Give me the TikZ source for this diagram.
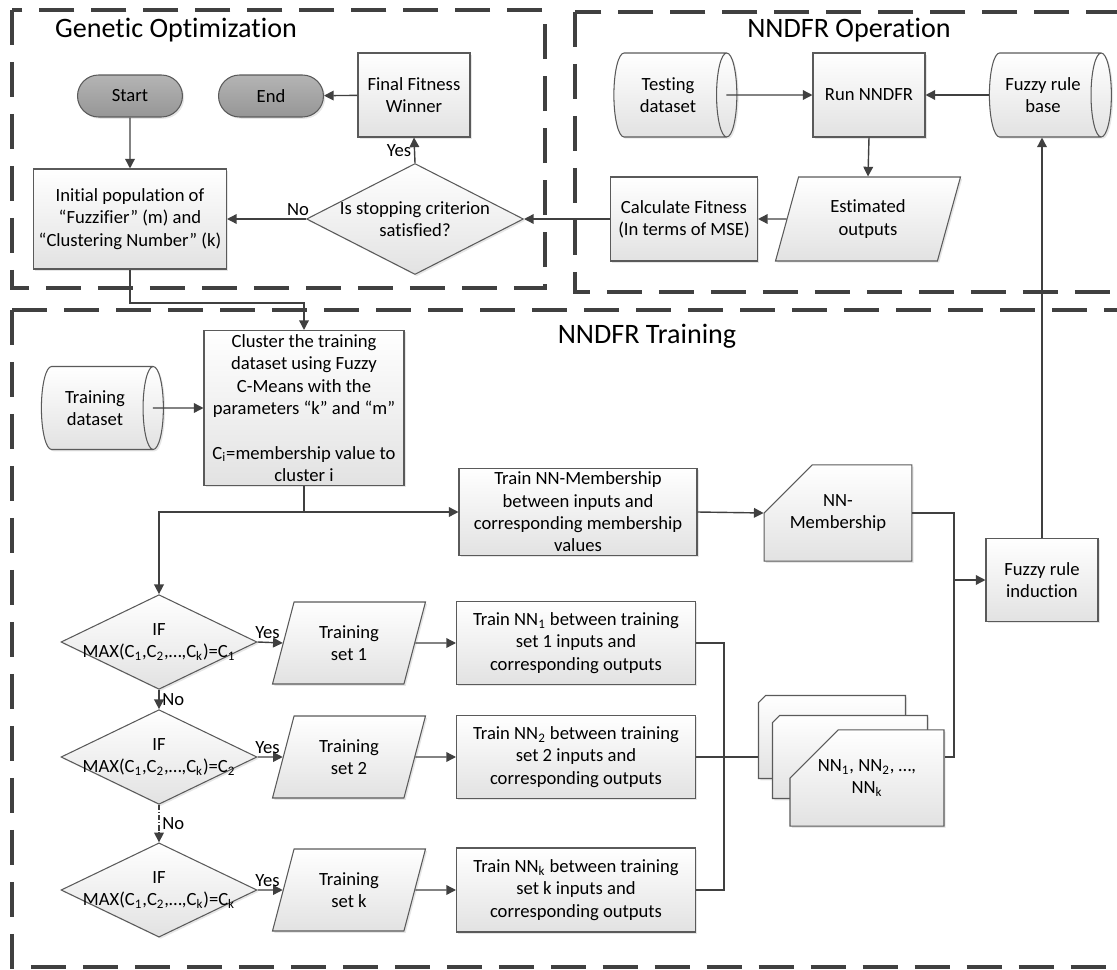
\documentclass[tikz,border=0pt]{standalone}
\usepackage{fontspec}
\setmainfont{Carlito}[Ligatures=NoCommon]
\usetikzlibrary{shapes.geometric,shapes.misc,arrows.meta,shadows}

\definecolor{framecol}{RGB}{64,64,64}
\definecolor{linecol}{RGB}{64,64,64}
\definecolor{bordercol}{RGB}{90,90,90}
\definecolor{boxgray}{RGB}{226,226,226}
\definecolor{termtop}{RGB}{180,180,180}
\definecolor{termbot}{RGB}{150,150,150}

\tikzset{
  frame/.style={draw=framecol, line width=2.2pt, dash pattern=on 0.7cm off 0.34cm},
  base/.style={draw=bordercol, line width=0.6pt, top color=white, bottom color=boxgray,
    align=center, inner sep=2pt, font=\fontsize{10.6}{12.7}\selectfont,
    drop shadow={shadow xshift=1pt, shadow yshift=-1pt, opacity=0.2}},
  proc/.style={base, rectangle},
  term/.style={base, rounded rectangle, top color=termtop, bottom color=termbot},
  dec/.style={base, diamond, aspect=1.8, inner sep=-5pt},
  io/.style={base, trapezium, trapezium left angle=63, trapezium right angle=117,
    trapezium stretches body},
  store/.style={base, cylinder, aspect=0.48},
  card/.style={base, chamfered rectangle, chamfered rectangle corners=north west,
    chamfered rectangle sep=0.52cm},
  title/.style={font=\fontsize{16}{19}\selectfont},
  lbl/.style={font=\fontsize{10.6}{12.7}\selectfont, inner sep=1.5pt},
  conn/.style={draw=linecol, line width=0.8pt},
  arr/.style={conn, -{Triangle[length=5.5pt, width=5.5pt]}},
}

\begin{document}
\begin{tikzpicture}[x=0.02cm, y=-0.02cm]
  \useasboundingbox (0,0) rectangle (1117,970);

  % dashed frames
  \draw[frame] (12,10) rectangle (545,288);
  \draw[frame] (575,12) rectangle (1140,292);
  \draw[frame] (12,310) rectangle (1140,967);
  \node[title] (gotitle) at (176,30) {Genetic Optimization};
  \node[title] (optitle) at (849,30) {NNDFR Operation};
  \node[title] (trtitle) at (647,336) {NNDFR Training};

  % Genetic Optimization
  \node[term, minimum width=2.24cm, minimum height=0.84cm] (start) at (130,96) {Start};
  \node[term, minimum width=2.24cm, minimum height=0.84cm] (stop) at (271,96) {End};
  \node[proc, minimum width=2.24cm, minimum height=1.68cm] (winner) at (414,95) {Final Fitness\\Winner};
  \node[dec, minimum width=4.34cm, minimum height=2.22cm] (stopq) at (415,219) {Is stopping criterion\\satisfied?};
  \node[proc, minimum width=3.86cm, minimum height=2cm] (init) at (130,219)
    {Initial population of\\“Fuzzifier” (m) and\\“Clustering Number” (k)};

  % NNDFR Operation
  \node[store, minimum height=2.46cm, minimum width=1.68cm] (testset) at (668,95) {Testing\\dataset};
  \node[proc, minimum width=2.24cm, minimum height=1.68cm] (run) at (869,95) {Run NNDFR};
  \node[store, minimum height=2.44cm, minimum width=1.68cm] (rulebase) at (1043,95) {Fuzzy rule\\base};
  \node[io, minimum width=3.7cm, minimum height=1.68cm] (estout) at (868,219) {Estimated\\outputs};
  \node[proc, minimum width=2.94cm, minimum height=1.68cm] (fitness) at (684,219) {Calculate Fitness\\(In terms of MSE)};

  % NNDFR Training
  \node[store, minimum height=2.44cm, minimum width=1.66cm] (trainset) at (95,408) {Training\\dataset};
  \node[proc, minimum width=4cm, minimum height=3.1cm] (cluster) at (304,408)
    {Cluster the training\\dataset using Fuzzy\\C-Means with the\\parameters “k” and “m”\\[12.7pt]C\textsubscript{i}=membership value to\\cluster i};
  \node[proc, minimum width=4.76cm, minimum height=1.74cm] (trainmem) at (578,512)
    {Train NN-Membership\\between inputs and\\corresponding membership\\values};
  \node[card, minimum width=2.92cm, minimum height=1.64cm] (nnmem) at (838,513) {NN-\\Membership};
  \node[proc, minimum width=2.24cm, minimum height=1.66cm] (induct) at (1042,580) {Fuzzy rule\\induction};

  \node[dec, minimum width=3.92cm, minimum height=1.82cm] (if1) at (159,642)
    {IF\\MAX(C\textsubscript{1},C\textsubscript{2},…,C\textsubscript{k})=C\textsubscript{1}};
  \node[dec, minimum width=3.92cm, minimum height=1.82cm] (if2) at (159,757)
    {IF\\MAX(C\textsubscript{1},C\textsubscript{2},…,C\textsubscript{k})=C\textsubscript{2}};
  \node[dec, minimum width=3.92cm, minimum height=1.88cm] (ifk) at (159,890)
    {IF\\MAX(C\textsubscript{1},C\textsubscript{2},…,C\textsubscript{k})=C\textsubscript{k}};

  \node[io, minimum width=3.06cm, minimum height=1.64cm] (set1) at (349,643) {Training\\set 1};
  \node[io, minimum width=3.06cm, minimum height=1.64cm] (set2) at (349,757) {Training\\set 2};
  \node[io, minimum width=3.06cm, minimum height=1.64cm] (setk) at (349,890) {Training\\set k};

  \node[proc, minimum width=4.78cm, minimum height=1.66cm] (train1) at (576,643)
    {Train NN\textsubscript{1} between training\\set 1 inputs and\\corresponding outputs};
  \node[proc, minimum width=4.78cm, minimum height=1.66cm] (train2) at (576,757)
    {Train NN\textsubscript{2} between training\\set 2 inputs and\\corresponding outputs};
  \node[proc, minimum width=4.78cm, minimum height=1.68cm] (traink) at (576,890)
    {Train NN\textsubscript{k} between training\\set k inputs and\\corresponding outputs};

  % stack of trained networks
  \node[card, minimum width=2.94cm, minimum height=1.66cm] (nnback) at (832,737) {};
  \node[card, minimum width=3.1cm, minimum height=1.66cm] (nnmid) at (850,757) {};
  \node[card, minimum width=3.08cm, minimum height=1.64cm] (nnfront) at (867,778)
    {NN\textsubscript{1}, NN\textsubscript{2}, …,\\NN\textsubscript{k}};

  \coordinate (bus) at (724,757);
  \coordinate (joint) at (954,580);

  % connectors, genetic loop
  \draw[arr] (start) -- (init);
  \draw[arr] (stopq.north) -- node[lbl, left] {Yes} (winner.south);
  \draw[arr] (winner) -- (stop);
  \draw[arr] (stopq.west) -- node[lbl, above, pos=0.1] {No} (init.east);
  \draw[arr] (fitness.west) -- (stopq.east);

  % connectors, operation
  \draw[arr] ([xshift=-0.22cm]testset.east) -- (run.west);
  \draw[arr] (rulebase.west) -- (run.east);
  \draw[arr] (run.south) -- (estout.north);
  \draw[arr] (estout.west) -- (fitness.east);
  \draw[arr] (induct.north) -- (induct.north |- rulebase.south);

  % connectors, training
  \draw[arr] (init.south) -- (init.south |- 0,303) -| (cluster.north);
  \draw[arr] ([xshift=-0.22cm]trainset.east) -- (cluster.west);
  \draw[arr] (cluster.south) |- (trainmem.west);
  \draw[arr] (cluster.south |- trainmem.west) -| (if1.north);
  \draw[arr] (trainmem.east) -- (nnmem.west);
  \draw[conn] (nnmem.east) -| (joint);
  \draw[conn] (nnfront.east |- bus) -| (joint);
  \draw[arr] (joint) -- (induct.west);

  \draw[arr] (if1.south) -- node[lbl, right] {No} (if2.north);
  \draw[arr, densely dashdotted] (if2.south) -- node[lbl, right] {No} (ifk.north);
  \foreach \n in {1,2,k} {
    \draw[arr] (if\n.east) -- node[lbl, above, pos=0.4] {Yes} (set\n.west);
    \draw[arr] (set\n.east) -- (train\n.west);
  }
  \draw[conn] (train1.east) -| (bus);
  \draw[conn] (traink.east) -| (bus);
  \draw[conn] (train2.east) -- (nnback.west |- bus);
\end{tikzpicture}
\end{document}
